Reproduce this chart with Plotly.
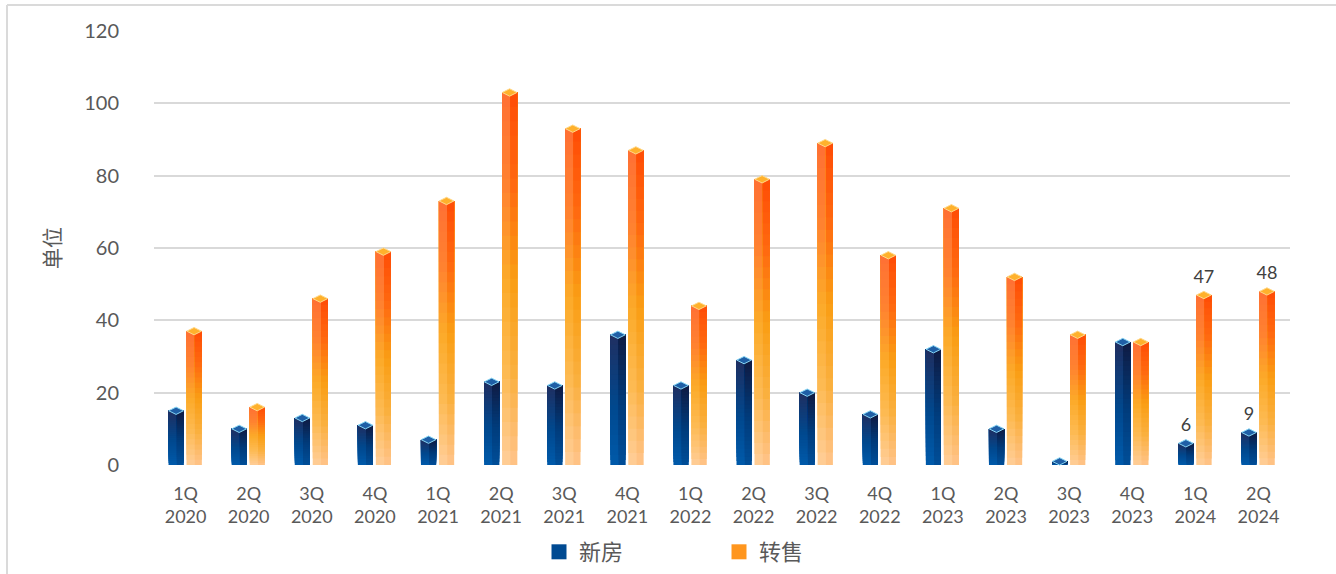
import plotly.graph_objects as go

categories = ["1Q<br>2020", "2Q<br>2020", "3Q<br>2020", "4Q<br>2020",
              "1Q<br>2021", "2Q<br>2021", "3Q<br>2021", "4Q<br>2021",
              "1Q<br>2022", "2Q<br>2022", "3Q<br>2022", "4Q<br>2022",
              "1Q<br>2023", "2Q<br>2023", "3Q<br>2023", "4Q<br>2023",
              "1Q<br>2024", "2Q<br>2024"]
new_homes = [15, 10, 13, 11, 7, 23, 22, 36, 22, 29, 20, 14, 32, 10, 1, 34, 6, 9]
resale = [37, 16, 46, 59, 73, 103, 93, 87, 44, 79, 89, 58, 71, 52, 36, 34, 47, 48]
labeled = ["1Q<br>2024", "2Q<br>2024"]
series_names = ["新房", "转售"]

TXT = "#595959"
GRID = "#d9d9d9"
FONT = "Lato, 'Noto Sans CJK SC', sans-serif"
CJK = "'Noto Sans CJK SC', sans-serif"

blue_front = [(0.0, (0, 90, 170)), (0.45, (0, 72, 142)), (1.0, (32, 46, 96))]
blue_side = [(0.0, (0, 78, 152)), (0.45, (0, 60, 124)), (1.0, (16, 26, 66))]
orange_front = [(0.0, (255, 206, 152)), (0.25, (253, 186, 82)), (0.5, (252, 170, 40)),
                (0.75, (255, 130, 48)), (1.0, (255, 112, 52))]
orange_side = [(0.0, (255, 196, 138)), (0.25, (250, 176, 62)), (0.5, (250, 158, 20)),
               (0.75, (255, 106, 16)), (1.0, (255, 76, 6))]


def color_at(stops, t):
    for (t0, c0), (t1, c1) in zip(stops[:-1], stops[1:]):
        if t0 <= t <= t1:
            f = (t - t0) / (t1 - t0) if t1 > t0 else 0
            c = [round(a + (b - a) * f) for a, b in zip(c0, c1)]
            return "rgb(%d,%d,%d)" % tuple(c)
    return "rgb(%d,%d,%d)" % stops[-1][1]


xs = list(range(len(categories)))
N = 26
fig = go.Figure()

specs = [
    (series_names[0], new_homes, blue_front, blue_side, -0.27, 0.24, "rgb(0,74,146)",
     "#1f5fa6", "#86d6f5"),
    (series_names[1], resale, orange_front, orange_side, 0.015, 0.24, "rgb(255,150,30)",
     "#ffb12c", "#ffd98a"),
]

for name, vals, front, side, off, wid, legcol, capcol, capline in specs:
    for stops, o, w in ((front, off, wid), (side, off + wid * 0.55, wid * 0.45)):
        for k in range(N):
            t = (k + 0.5) / N
            fig.add_trace(go.Bar(
                x=xs, y=[v * (N - k) / N for v in vals], base=[v * k / N for v in vals],
                offset=o, width=w,
                marker=dict(color=color_at(stops, t), line=dict(width=0)),
                name=name, legendgroup=name, showlegend=False, hoverinfo="skip",
            ))
    # legend entry
    fig.add_trace(go.Scatter(
        x=[None], y=[None], name=name, legendgroup=name, mode="markers",
        marker=dict(symbol="square", size=15, color=legcol), showlegend=True,
    ))
    # top cap + labels
    fig.add_trace(go.Scatter(
        x=[i + off + wid / 2 for i in xs], y=vals,
        mode="markers+text",
        marker=dict(symbol="diamond-wide", size=10.5, color=capcol,
                    line=dict(color=capline, width=1)),
        text=[str(v) if c in labeled else "" for c, v in zip(categories, vals)],
        textposition="top center",
        textfont=dict(size=18, color="#404040", family=FONT),
        cliponaxis=False, showlegend=False, legendgroup=name, name=name,
        hovertemplate="%{y}<extra>" + name + "</extra>",
    ))

fig.update_layout(
    width=1336, height=574,
    margin=dict(l=154, r=46, t=31, b=109, autoexpand=False),
    paper_bgcolor="white", plot_bgcolor="white",
    barmode="overlay",
    font=dict(family=FONT, color=TXT),
    xaxis=dict(
        range=[-0.5, len(categories) - 0.5],
        tickmode="array", tickvals=xs, ticktext=categories,
        showgrid=False, zeroline=False, showline=False,
        tickfont=dict(size=18, color=TXT, family=FONT),
        ticklabelstandoff=16,
    ),
    yaxis=dict(
        range=[0, 120], dtick=20, tick0=0,
        showgrid=True, gridcolor=GRID, gridwidth=2,
        zeroline=False, showline=False,
        tickfont=dict(size=20, color=TXT, family=FONT),
        ticklabelstandoff=34,
        title=dict(text="单位", font=dict(size=21, color=TXT, family=CJK), standoff=17),
    ),
    legend=dict(
        orientation="h", x=(539 - 154) / 1136, xanchor="left",
        y=(465 - 552) / 434, yanchor="middle",
        font=dict(size=22, color=TXT, family=CJK),
        entrywidth=135, traceorder="normal",
    ),
    shapes=[
        dict(type="line", xref="paper", yref="paper",
             x0=(7 - 154) / 1136, x1=(1336 - 154) / 1136,
             y0=(465 - 5) / 434, y1=(465 - 5) / 434,
             line=dict(color="#dadada", width=2)),
        dict(type="line", xref="paper", yref="paper",
             x0=(7 - 154) / 1136, x1=(7 - 154) / 1136,
             y0=(465 - 5) / 434, y1=(465 - 574) / 434,
             line=dict(color="#dadada", width=2)),
    ],
)

fig.write_html("out.html")
